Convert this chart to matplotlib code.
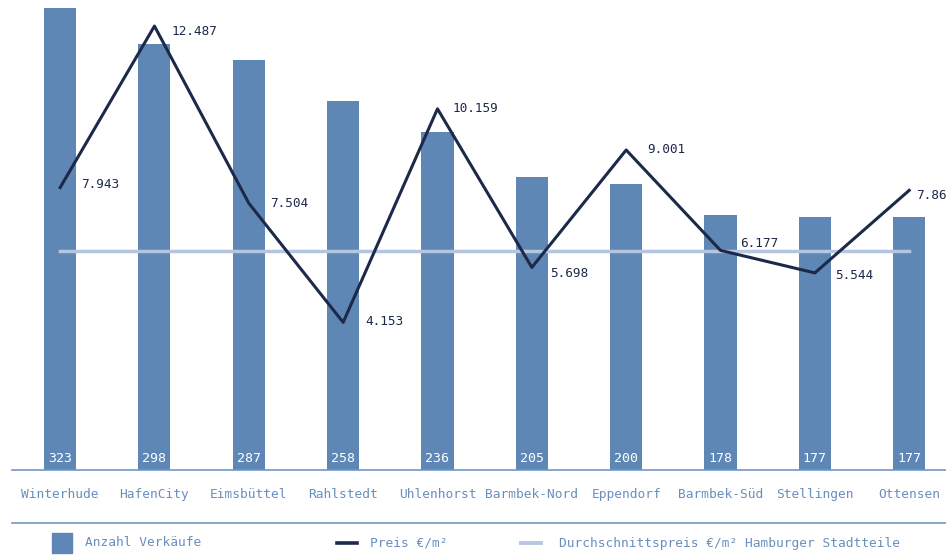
import matplotlib
matplotlib.use("Agg")
import matplotlib.pyplot as plt
from matplotlib.lines import Line2D
from matplotlib.patches import Rectangle

districts = ["Winterhude", "HafenCity", "Eimsbüttel", "Rahlstedt", "Uhlenhorst",
             "Barmbek-Nord", "Eppendorf", "Barmbek-Süd", "Stellingen", "Ottensen"]
sales = [323, 298, 287, 258, 236, 205, 200, 178, 177, 177]
price = [7943, 12487, 7504, 4153, 10159, 5698, 9001, 6177, 5544, 7866]
avg_price = 6160
price_labels = ["7.943", "12.487", "7.504", "4.153", "10.159",
                "5.698", "9.001", "6.177", "5.544", "7.866"]
legend_labels = ["Anzahl Verkäufe", "Preis €/m²", "Durchschnittspreis €/m² Hamburger Stadtteile"]

BAR = "#5f87b5"
DARK = "#1c2949"
LIGHT = "#b5c7e0"
TXT = "#6a8fbd"
AXL = "#7397c4"
FONT = ["DejaVu Sans Mono", "DejaVu Sans"]
plt.rcParams["font.family"] = FONT

W, H = 946, 558
fig = plt.figure(figsize=(W / 100, H / 100), dpi=100)
ax = fig.add_axes([12 / W, (H - 470) / H, 1 - 12 / W, 470 / H])
x = list(range(len(districts)))
ax.bar(x, sales, width=0.34, color=BAR, zorder=1)
ax.set_xlim(-0.51, 9.39)
ax.set_ylim(0, 328.6)
for s in ["top", "right", "left"]:
    ax.spines[s].set_visible(False)
ax.spines["bottom"].set_color(AXL)
ax.spines["bottom"].set_linewidth(1.2)
ax.set_yticks([])
ax.set_xticks(x)
ax.set_xticklabels(districts, color=TXT, fontsize=9.3)
ax.tick_params(axis="x", length=0, pad=13)

for i, v in enumerate(sales):
    ax.annotate(str(v), xy=(i, 0), xytext=(0, 11), textcoords="offset pixels",
                ha="center", va="center", color="white", fontsize=9.5)

ax2 = ax.twinx()
ax2.set_ylim(0, 13220)
ax2.axis("off")
ax2.plot([x[0], x[-1]], [avg_price, avg_price], color=LIGHT, lw=2.5, zorder=2)
ax2.plot(x, price, color=DARK, lw=2.2, zorder=3)
offsets = [(21, 3), (17, -5), (21, 0), (22, 1), (15, 0), (18, -6), (21, 0), (20, 7), (20, -3), (7, -5)]
for i, (v, lab) in enumerate(zip(price, price_labels)):
    dx, dy = offsets[i]
    ax2.annotate(lab, xy=(i, v), xytext=(dx, dy), textcoords="offset pixels",
                 ha="left", va="center", color=DARK, fontsize=9.2)

# separator line above legend
fig.add_artist(Line2D([12 / W, 1], [(H - 523) / H] * 2, color=AXL, lw=1.2))

# legend
ly = (H - 543) / H
fig.add_artist(Rectangle((52 / W, (H - 553) / H), 20 / W, 20 / H, color=BAR))
fig.text(85 / W, ly, legend_labels[0], color=TXT, fontsize=9.3, va="center")
fig.add_artist(Line2D([337 / W, 357 / W], [ly, ly], color=DARK, lw=2.6))
fig.text(370 / W, ly, legend_labels[1], color=TXT, fontsize=9.3, va="center")
fig.add_artist(Line2D([521 / W, 541 / W], [ly, ly], color=LIGHT, lw=2.8))
fig.text(559 / W, ly, legend_labels[2], color=TXT, fontsize=9.3, va="center")

fig.savefig("out.png", dpi=100)
